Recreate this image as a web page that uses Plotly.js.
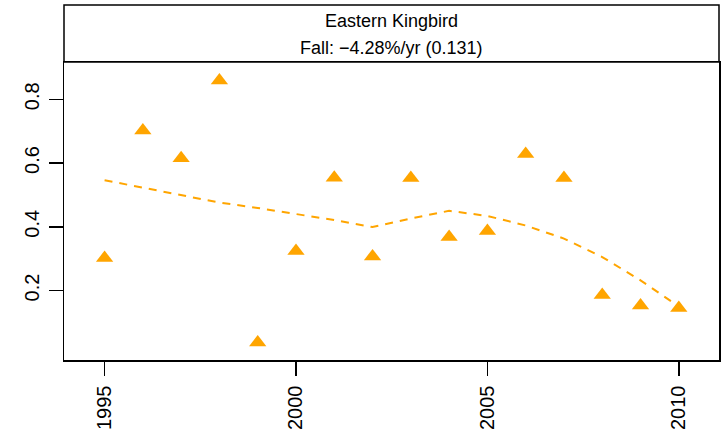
<!DOCTYPE html>
<html>
<head>
<meta charset="utf-8">
<script src="https://cdn.plot.ly/plotly-3.0.1.min.js"></script>
<style>
  html, body { margin: 0; padding: 0; background: #ffffff; }
  #chart { width: 724px; height: 442px; }
</style>
</head>
<body>
<div id="chart"></div>
<script>
// Fall migration counts index for Eastern Kingbird, one value per year
const years = [1995, 1996, 1997, 1998, 1999, 2000, 2001, 2002, 2003, 2004, 2005, 2006, 2007, 2008, 2009, 2010];
const observed = [0.302, 0.702, 0.615, 0.859, 0.037, 0.324, 0.554, 0.307, 0.553, 0.368, 0.387, 0.628, 0.553, 0.186, 0.153, 0.145];
// Smoothed (loess) trend evaluated at each year
const smoothed = [0.546, 0.522, 0.499, 0.476, 0.459, 0.441, 0.421, 0.399, 0.426, 0.450, 0.434, 0.404, 0.363, 0.305, 0.232, 0.150];

const xTicks = [1995, 2000, 2005, 2010];
const xTickText = ['1995', '2000', '2005', '2010'];
const yTicks = [0.2, 0.4, 0.6, 0.8];
const yTickText = ['0.2', '0.4', '0.6', '0.8'];

const stripTitle = 'Eastern Kingbird';
const stripSubtitle = 'Fall: \u22124.28%/yr (0.131)';

const orange = '#FFA500';
const fontFamily = '"Liberation Sans", Arial, Helvetica, sans-serif';

const traces = [
  {
    x: years,
    y: smoothed,
    type: 'scatter',
    mode: 'lines',
    line: { color: orange, width: 2, dash: '8px,7px' },
    hoverinfo: 'skip'
  },
  {
    x: years,
    y: observed,
    type: 'scatter',
    mode: 'markers',
    marker: { symbol: 'triangle-up', size: 15, color: orange, line: { width: 0 } }
  }
];

const plotHeight = 442 - 62 - 82;
const stripTop = 1 + 57 / plotHeight;

const layout = {
  width: 724,
  height: 442,
  margin: { l: 64, r: 5, t: 62, b: 82 },
  paper_bgcolor: '#ffffff',
  plot_bgcolor: '#ffffff',
  showlegend: false,
  font: { family: fontFamily, color: '#000000' },
  xaxis: {
    range: [1993.94, 2011.05],
    tickvals: xTicks,
    ticktext: xTickText,
    tickangle: -90,
    tickfont: { size: 20, family: fontFamily, color: '#000000' },
    ticks: 'outside',
    ticklen: 14,
    tickwidth: 1.5,
    tickcolor: '#000000',
    ticklabelstandoff: 2,
    showgrid: false,
    zeroline: false,
    showline: true,
    linecolor: '#000000',
    linewidth: 1.5,
    mirror: true
  },
  yaxis: {
    range: [-0.018, 0.917],
    tickvals: yTicks,
    ticktext: yTickText,
    tickangle: -90,
    tickfont: { size: 20, family: fontFamily, color: '#000000' },
    ticks: 'outside',
    ticklen: 14,
    tickwidth: 1.5,
    tickcolor: '#000000',
    ticklabelstandoff: 2,
    showgrid: false,
    zeroline: false,
    showline: true,
    linecolor: '#000000',
    linewidth: 1.5,
    mirror: true
  },
  shapes: [
    {
      type: 'rect',
      xref: 'paper', yref: 'paper',
      x0: 0, x1: 1, y0: 1, y1: stripTop,
      line: { color: '#000000', width: 1.5 },
      fillcolor: 'rgba(0,0,0,0)'
    }
  ],
  annotations: [
    {
      xref: 'paper', yref: 'paper',
      x: 0.5, y: (360 - 21) / plotHeight,
      xanchor: 'center', yanchor: 'middle',
      text: stripTitle,
      showarrow: false,
      font: { size: 18, family: fontFamily, color: '#000000' }
    },
    {
      xref: 'paper', yref: 'paper',
      x: 0.5, y: (360 - 48) / plotHeight,
      xanchor: 'center', yanchor: 'middle',
      text: stripSubtitle,
      showarrow: false,
      font: { size: 18, family: fontFamily, color: '#000000' }
    }
  ]
};

Plotly.newPlot('chart', traces, layout, { staticPlot: true, displayModeBar: false });
</script>
</body>
</html>
